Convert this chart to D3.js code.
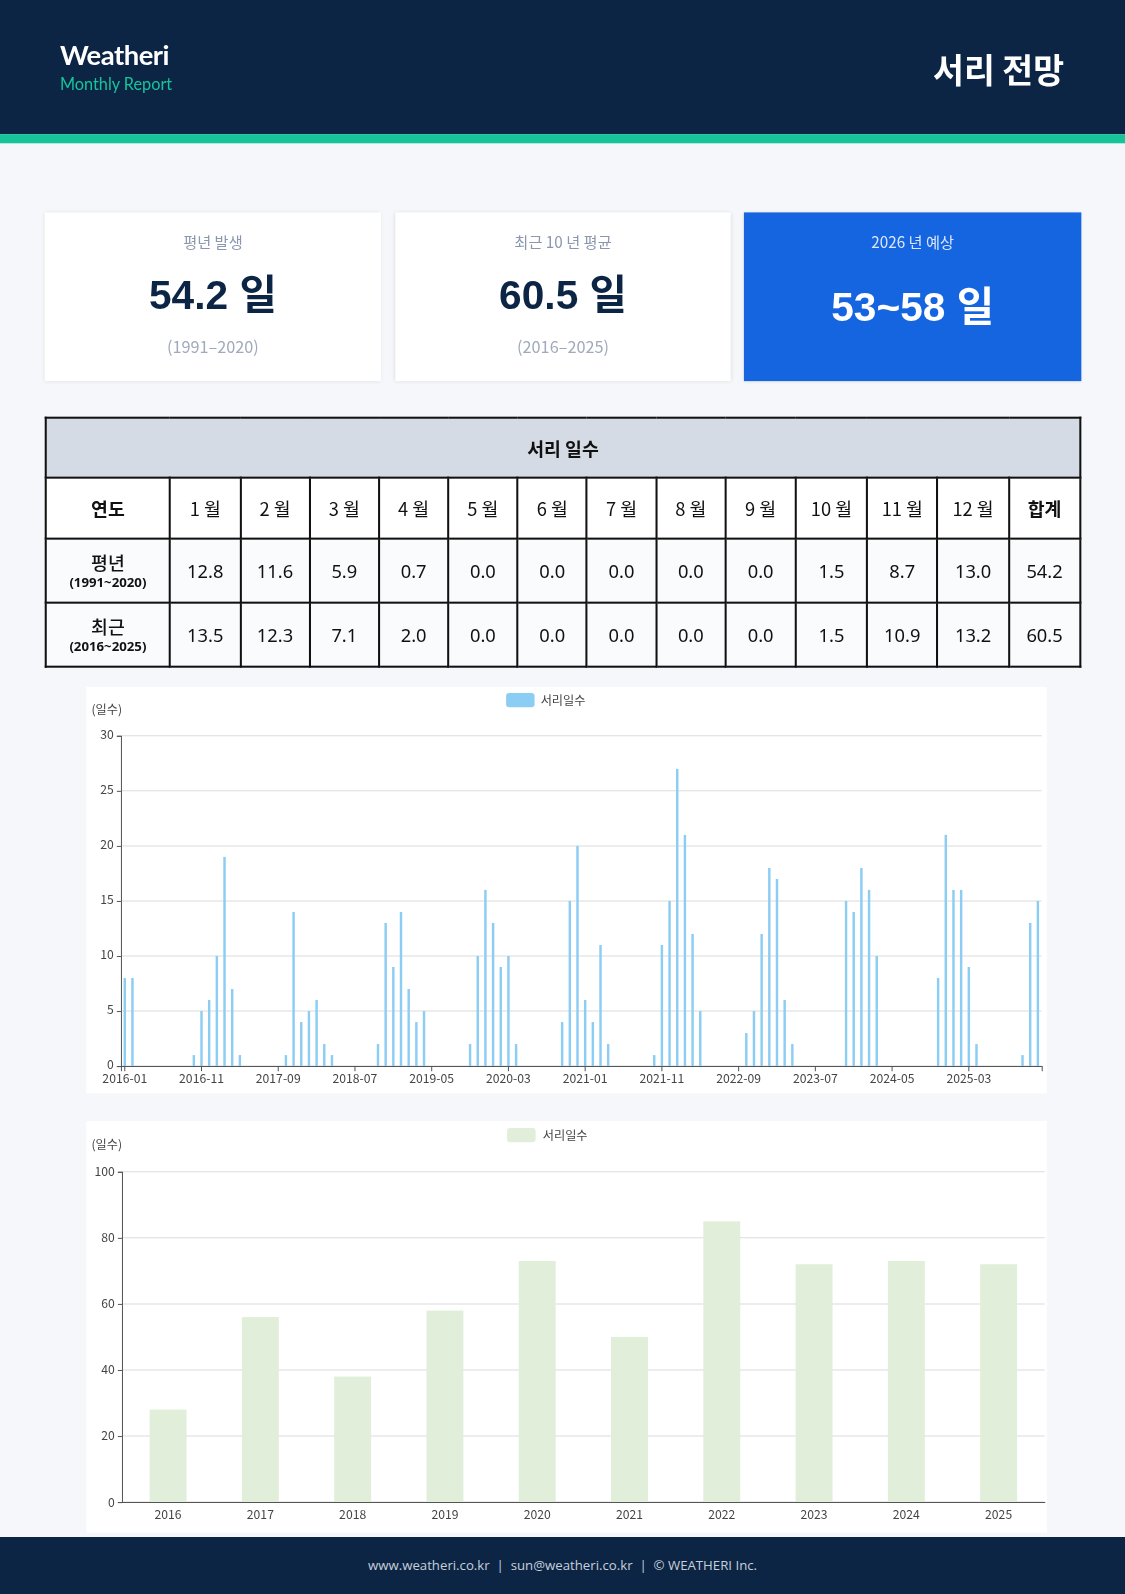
<!DOCTYPE html>
<html><head><meta charset="utf-8">
<script src="https://cdn.jsdelivr.net/npm/d3@7"></script>
<style>
body{margin:0;width:1125px;height:1594px;background:#f5f7fa;font-family:"Noto Sans CJK KR","Noto Sans",sans-serif;overflow:hidden}
#root{position:absolute;left:0;top:0;width:1107px;height:1600px;transform:scale(1.0163);transform-origin:0 0}
.hdr{position:absolute;left:0;top:0;width:1107px;height:132px;background:#0c2545}
.strip{position:absolute;left:0;top:132px;width:1107px;height:9px;background:#17c49a}
.brand{position:absolute;left:59px;top:37px;color:#fff;font-family:Lato,sans-serif;font-weight:700;font-size:27px;letter-spacing:-0.5px}
.sub{position:absolute;left:59px;top:73px;color:#17c49a;font-family:Lato,sans-serif;font-size:16px}
.title{position:absolute;right:60px;top:44px;color:#fff;font-weight:700;font-size:33px}
.card{position:absolute;top:209px;height:166px;background:#fff;box-shadow:0 1px 4px rgba(0,0,0,.12);text-align:center}
.card .l{margin-top:18px;color:#8a97ad;font-size:15px}
.card .v{margin-top:10px;color:#0c2545;font-size:40px;font-weight:700;font-family:"Liberation Sans","Noto Sans CJK KR",sans-serif}
.card .p{margin-top:12px;color:#a0aabb;font-size:16px}
.card.blue{background:#1565e0}
.card.blue .l{color:#dbe6ff}.card.blue .v{color:#fff;margin-top:22px}
table{position:absolute;left:44px;top:410px;width:1020px;border-collapse:collapse;table-layout:fixed;font-size:18px;color:#111;font-family:"Noto Sans","Noto Sans CJK KR",sans-serif}
td,th{border:2px solid #111;text-align:center;padding:0}
th.cap{background:#d5dbe5;height:57px;font-weight:700;font-family:"Noto Sans CJK KR"}
tr.h td{height:58px;background:#fff}
tr.r td{height:61px;background:#fafbfc}
.small{font-size:13px;font-weight:700}
.panel{position:absolute;background:#fff}
.foot{position:absolute;left:0;top:1512px;width:1107px;height:90px;background:#0c2545;color:#c7cfdb;font-size:13px;text-align:center;line-height:56px;font-family:"Open Sans",sans-serif}
</style></head><body><div id="root">
<div class="hdr"></div><div class="strip"></div>
<div class="brand">Weatheri</div><div class="sub">Monthly Report</div>
<div class="title">서리 전망</div>
<div class="card" style="left:44px;width:331px"><div class="l">평년 발생</div><div class="v">54.2 일</div><div class="p">(1991–2020)</div></div>
<div class="card" style="left:389px;width:330px"><div class="l">최근 10 년 평균</div><div class="v">60.5 일</div><div class="p">(2016–2025)</div></div>
<div class="card blue" style="left:732px;width:332px"><div class="l">2026 년 예상</div><div class="v">53~58 일</div></div>
<table id="tbl"></table>
<div class="panel" style="left:85px;top:676px;width:945px;height:400px"></div>
<div class="panel" style="left:85px;top:1103px;width:945px;height:405px"></div>
<svg id="svg" width="1107" height="1600" style="position:absolute;left:0;top:0"></svg>
<div class="foot">www.weatheri.co.kr &nbsp;|&nbsp; sun@weatheri.co.kr &nbsp;|&nbsp; © WEATHERI Inc.</div>
</div>
<script>
const monthHeaders=["1 월","2 월","3 월","4 월","5 월","6 월","7 월","8 월","9 월","10 월","11 월","12 월"];
const normalRow=[12.8,11.6,5.9,0.7,0.0,0.0,0.0,0.0,0.0,1.5,8.7,13.0,54.2];
const recentRow=[13.5,12.3,7.1,2.0,0.0,0.0,0.0,0.0,0.0,1.5,10.9,13.2,60.5];
const years=["2016","2017","2018","2019","2020","2021","2022","2023","2024","2025"];
const monthly2016=[8,8,0,0,0,0,0,0,0,1,5,6];
const monthly2017=[10,19,7,1,0,0,0,0,0,1,14,4];
const monthly2018=[5,6,2,1,0,0,0,0,0,2,13,9];
const monthly2019=[14,7,4,5,0,0,0,0,0,2,10,16];
const monthly2020=[13,9,10,2,0,0,0,0,0,4,15,20];
const monthly2021=[6,4,11,2,0,0,0,0,0,1,11,15];
const monthly2022=[27,21,12,5,0,0,0,0,0,3,5,12];
const monthly2023=[18,17,6,2,0,0,0,0,0,0,15,14];
const monthly2024=[18,16,10,0,0,0,0,0,0,0,8,21];
const monthly2025=[16,16,9,2,0,0,0,0,0,1,13,15];
const annual=[28,56,38,58,73,50,85,72,73,72];

// table
const colW=[122,69,68,68,68,68,68,68,68,69,70,69,70,70];
const tbl=d3.select("#tbl");
const cg=tbl.append("colgroup");colW.forEach(w=>cg.append("col").style("width",w+"px"));
tbl.append("tr").append("th").attr("class","cap").attr("colspan",14).text("서리 일수");
const hr=tbl.append("tr").attr("class","h");
["연도",...monthHeaders,"합계"].forEach((t,i)=>hr.append("td").style("font-weight",(i==0||i==13)?"700":"400").style("font-family","'Noto Sans CJK KR'").text(t));
[["평년","(1991~2020)",normalRow],["최근","(2016~2025)",recentRow]].forEach(([a,b,row])=>{
  const tr=tbl.append("tr").attr("class","r");
  tr.append("td").html(`<div style="font-family:'Noto Sans CJK KR';font-weight:500;line-height:22px">${a}</div><div class="small">${b}</div>`);
  row.forEach(v=>tr.append("td").text(v.toFixed(1)));
});

const svg=d3.select("#svg");
const F="'Noto Sans CJK KR','Open Sans',sans-serif";
// monthly chart
const allMonthly=[monthly2016,monthly2017,monthly2018,monthly2019,monthly2020,monthly2021,monthly2022,monthly2023,monthly2024,monthly2025];
const mdata=[];
years.forEach((y,yi)=>allMonthly[yi].forEach((v,m)=>mdata.push({k:y+"-"+String(m+1).padStart(2,"0"),v})));
const x1=d3.scaleBand().domain(mdata.map(d=>d.k)).range([119,1025]);
const y1=d3.scaleLinear().domain([0,30]).range([1049,724]);
const g1=svg.append("g");
g1.selectAll(".gl").data(y1.ticks(6)).join("line").attr("x1",119).attr("x2",1025).attr("y1",d=>y1(d)).attr("y2",d=>y1(d)).attr("stroke","#dcdcdc");
g1.selectAll(".b").data(mdata).join("rect").attr("x",d=>x1(d.k)+x1.bandwidth()/2-1.2).attr("width",2.4)
  .attr("y",d=>y1(d.v)).attr("height",d=>y1(0)-y1(d.v)).attr("fill","#8ccdf4");
const ya1=g1.append("g").attr("transform","translate(119,0)").call(d3.axisLeft(y1).ticks(6).tickSize(4));
const tk=mdata.map(d=>d.k).filter((d,i)=>i%10==0);
const xa1=g1.append("g").attr("transform","translate(0,1049)").call(d3.axisBottom(x1).tickValues(tk).tickSize(5));
[ya1,xa1].forEach(a=>{a.selectAll("text").attr("fill","#444").style("font-size","12px").style("font-family",F);a.selectAll("line,path").attr("stroke","#555")});
ya1.selectAll("text").attr("dy","0.2em");
g1.append("text").attr("x",90).attr("y",703).text("(일수)").attr("font-size",12).attr("fill","#444").style("font-family",F);
g1.append("rect").attr("x",498).attr("y",682).attr("width",28).attr("height",14).attr("rx",3).attr("fill","#8ccdf4");
g1.append("text").attr("x",532).attr("y",694).text("서리일수").attr("font-size",12).attr("fill","#444").style("font-family",F);

// annual chart
const x2=d3.scaleBand().domain(years).range([120,1028]).paddingInner(0.6).paddingOuter(0.3);
const y2=d3.scaleLinear().domain([0,100]).range([1478,1153]);
const g2=svg.append("g");
g2.selectAll(".gl").data(y2.ticks(5)).join("line").attr("x1",120).attr("x2",1028).attr("y1",d=>y2(d)).attr("y2",d=>y2(d)).attr("stroke","#dcdcdc");
g2.selectAll(".b").data(annual).join("rect").attr("x",(d,i)=>x2(years[i])).attr("width",x2.bandwidth())
  .attr("y",d=>y2(d)).attr("height",d=>y2(0)-y2(d)).attr("fill","#e0eeda");
const ya2=g2.append("g").attr("transform","translate(120,0)").call(d3.axisLeft(y2).ticks(5).tickSize(4));
const xa2=g2.append("g").attr("transform","translate(0,1478)").call(d3.axisBottom(x2).tickSize(0).tickPadding(8));
[ya2,xa2].forEach(a=>{a.selectAll("text").attr("fill","#444").style("font-size","12px").style("font-family",F);a.selectAll("line,path").attr("stroke","#555")});
g2.append("text").attr("x",90).attr("y",1131).text("(일수)").attr("font-size",12).attr("fill","#444").style("font-family",F);
g2.append("rect").attr("x",499).attr("y",1110).attr("width",28).attr("height",14).attr("rx",3).attr("fill","#e0eeda");
g2.append("text").attr("x",534).attr("y",1122).text("서리일수").attr("font-size",12).attr("fill","#444").style("font-family",F);
</script></body></html>
